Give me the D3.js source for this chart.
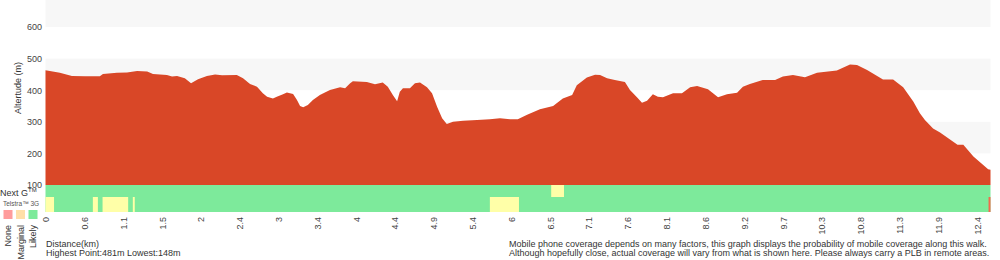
<!DOCTYPE html>
<html>
<head>
<meta charset="utf-8">
<script src="https://cdn.jsdelivr.net/npm/d3@7"></script>
<style>
  body { margin: 0; background: #fff; }
  svg { font-family: "Liberation Sans", Arial, sans-serif; display: block; }
</style>
</head>
<body>
<div id="chart-area"></div>
<script>
const WIDTH = 1000
const HEIGHT = 260

// profile samples: position along the chart (tick = 10 steps) and altitude (m)
const steps = [0, 3.7, 6.8, 10.2, 14, 14.8, 18.4, 21, 23.6, 26.2, 27.7, 31.3, 32.6, 33.9, 35.9, 37.5, 39.3, 41.6, 43.7, 45.5,
  49.3, 50.9, 52.7, 54.5, 56, 57.1, 58.6, 59.6, 61.2, 62.2, 63.8, 64.8, 65.6, 66.4, 67.6, 68.9, 70.7, 73.3, 75.9, 77.2,
  78.5, 79.2, 82.8, 84.9, 86.9, 88.2, 89.5, 90.6, 91.3, 92.1, 93.9, 95.2, 96.5, 98.3, 99.6, 100.9, 102.2, 103.4, 105, 107.6,
  111.2, 114.5, 117.1, 119.7, 121.7, 124.1, 127.4, 130.8, 133.3, 135.7, 136.9, 139.5, 141.6, 142.9, 144.7, 146.7, 149.3, 150.6, 152.4, 153.7,
  155, 156.5, 157.8, 159.1, 161.7, 164, 166.1, 167.9, 170.7, 173.3, 175.6, 178.2, 179.7, 181.5, 184.8, 188, 190, 192.6, 195.7, 198.8,
  203.9, 207.3, 209.1, 211.7, 215.8, 218.4, 221, 223.6, 225.3, 226.6, 228.7, 230.5, 235, 236.5, 239.1, 242.9, 243.5]
const altitude = [463, 455, 445, 444, 444, 451, 455, 456, 461, 459, 451, 448, 443, 445, 438, 422, 435, 445, 450, 447,
  448, 438, 420, 411, 390, 379, 374, 379, 387, 393, 388, 369, 350, 346, 353, 369, 385, 401, 409, 406,
  422, 428, 426, 419, 424, 411, 385, 365, 395, 406, 406, 422, 424, 409, 390, 348, 311, 293, 300, 303,
  306, 308, 311, 308, 308, 322, 340, 350, 374, 385, 416, 440, 449, 448, 438, 432, 426, 401, 378, 360,
  367, 387, 379, 378, 390, 390, 409, 413, 403, 378, 387, 392, 411, 420, 432, 432, 443, 448, 441, 455,
  462, 481, 480, 464, 434, 434, 409, 364, 327, 306, 279, 266, 227, 227, 190, 150, 148]

const tickLabels = ["0", "0.6", "1.1", "1.5", "2", "2.4", "3", "3.4", "4", "4.4", "4.9", "5.4", "6",
  "6.5", "7.1", "7.6", "8.1", "8.6", "9.2", "9.7", "10.3", "10.8", "11.3", "11.9", "12.4"]
const altTicks = [100, 200, 300, 400, 500, 600]
const stripes = [[200, 300], [400, 500], [600, 700]]

// coverage segments (in steps), everything else is "likely"
const nextG = [[130.3, 133.6, "marginal"]]
const threeG = [[0, 2.2, "marginal"], [12.2, 13.5, "marginal"], [14.7, 21.3, "marginal"], [22.5, 23, "marginal"],
  [114.5, 122, "marginal"], [243, 243.5, "none"]]
const levels = ["none", "marginal", "likely"]
const levelNames = ["None", "Marginal", "Likely"]

const coverColor = d3.scaleOrdinal()
  .domain(levels)
  .range(["#f4694c", "#ffffa8", "#7dea9b"])
const legendColor = d3.scaleOrdinal()
  .domain(levels)
  .range(["#ff9c9c", "#ffdfa8", "#7dea9b"])

const svg = d3.select("#chart-area").append("svg")
  .attr("width", WIDTH)
  .attr("height", HEIGHT)

const x = d3.scaleLinear().domain([0, 243.5]).range([45.5, 990.5])
const y = d3.scaleLinear().domain([100, 600]).range([185, 27])

// alternating background bands
svg.append("g").selectAll("rect")
  .data(stripes)
  .join("rect")
  .attr("x", x(0))
  .attr("width", x(243.5) - x(0))
  .attr("y", d => y(d[1]))
  .attr("height", d => y(d[0]) - y(d[1]))
  .attr("fill", "#f7f7f7")

// altitude area
const area = d3.area()
  .x((d, i) => x(steps[i]))
  .y0(y(100))
  .y1(d => y(d))
svg.append("path")
  .datum(altitude)
  .attr("d", area)
  .attr("fill", "#d94727")

// coverage rows
const rows = [
  { name: "nextg", top: 185, bottom: 197, segs: nextG },
  { name: "3g", top: 197, bottom: 212, segs: threeG }
]
rows.forEach(r => {
  const rg = svg.append("g")
  rg.append("rect")
    .attr("x", x(0))
    .attr("width", x(243.5) - x(0))
    .attr("y", r.top)
    .attr("height", r.bottom - r.top)
    .attr("fill", coverColor("likely"))
  rg.selectAll(".seg")
    .data(r.segs)
    .join("rect")
    .attr("class", "seg")
    .attr("x", d => x(d[0]))
    .attr("width", d => x(d[1]) - x(d[0]))
    .attr("y", r.top)
    .attr("height", r.bottom - r.top)
    .attr("fill", d => coverColor(d[2]))
})

// y axis
const yAxis = svg.append("g")
  .attr("transform", "translate(42, 0)")
  .call(d3.axisLeft(y).tickValues(altTicks).tickSize(0).tickPadding(0))
yAxis.select(".domain").remove()
yAxis.selectAll("text")
  .attr("font-size", "9px")
  .attr("font-family", "Liberation Sans, Arial, sans-serif")
  .attr("fill", "#444")

svg.append("text")
  .attr("transform", `translate(21, 88) rotate(-90)`)
  .attr("text-anchor", "middle")
  .attr("font-size", "9px")
  .attr("fill", "#333")
  .text("Altertude (m)")

// x axis, labels rotated
const xAxis = svg.append("g")
  .attr("transform", "translate(0, 212)")
  .call(d3.axisBottom(x)
    .tickValues(d3.range(0, tickLabels.length * 10, 10))
    .tickFormat((d, i) => tickLabels[i])
    .tickSize(0))
xAxis.select(".domain").remove()
xAxis.selectAll("text")
  .attr("font-size", "9px")
  .attr("font-family", "Liberation Sans, Arial, sans-serif")
  .attr("fill", "#444")
  .attr("text-anchor", "end")
  .attr("transform", "rotate(-90)")
  .attr("x", -5)
  .attr("y", 0)
  .attr("dy", "0.35em")

// legend
const nextLabel = svg.append("text")
  .attr("x", 0)
  .attr("y", 196)
  .attr("font-size", "9px")
  .attr("fill", "#333")
nextLabel.append("tspan").text("Next G")
nextLabel.append("tspan").attr("font-size", "6px").attr("dy", -4).text("TM")

svg.append("text")
  .attr("x", 3)
  .attr("y", 206)
  .attr("font-size", "6.5px")
  .attr("fill", "#555")
  .text("Telstra™ 3G")

const legendX = d3.scalePoint().domain(levels).range([8, 33])
svg.append("g").selectAll("rect")
  .data(levels)
  .join("rect")
  .attr("x", d => legendX(d) - 4.5)
  .attr("y", 210)
  .attr("width", 9)
  .attr("height", 9)
  .attr("fill", d => legendColor(d))

svg.append("g").selectAll("text")
  .data(levels)
  .join("text")
  .attr("transform", d => `translate(${legendX(d)}, 225) rotate(-90)`)
  .attr("text-anchor", "end")
  .attr("dy", "0.35em")
  .attr("font-size", "9px")
  .attr("fill", "#333")
  .text((d, i) => levelNames[i])

// footer notes
svg.append("text")
  .attr("x", 46)
  .attr("y", 247)
  .attr("font-size", "9px")
  .attr("fill", "#333")
  .text("Distance(km)")
svg.append("text")
  .attr("x", 46)
  .attr("y", 256)
  .attr("font-size", "9px")
  .attr("fill", "#333")
  .text(`Highest Point:${d3.max(altitude)}m Lowest:${d3.min(altitude)}m`)

svg.append("text")
  .attr("x", 509)
  .attr("y", 247)
  .attr("font-size", "9px")
  .attr("fill", "#333")
  .text("Mobile phone coverage depends on many factors, this graph displays the probability of mobile coverage along this walk.")
svg.append("text")
  .attr("x", 509)
  .attr("y", 256)
  .attr("font-size", "9px")
  .attr("fill", "#333")
  .text("Although hopefully close, actual coverage will vary from what is shown here. Please always carry a PLB in remote areas.")
</script>
</body>
</html>
